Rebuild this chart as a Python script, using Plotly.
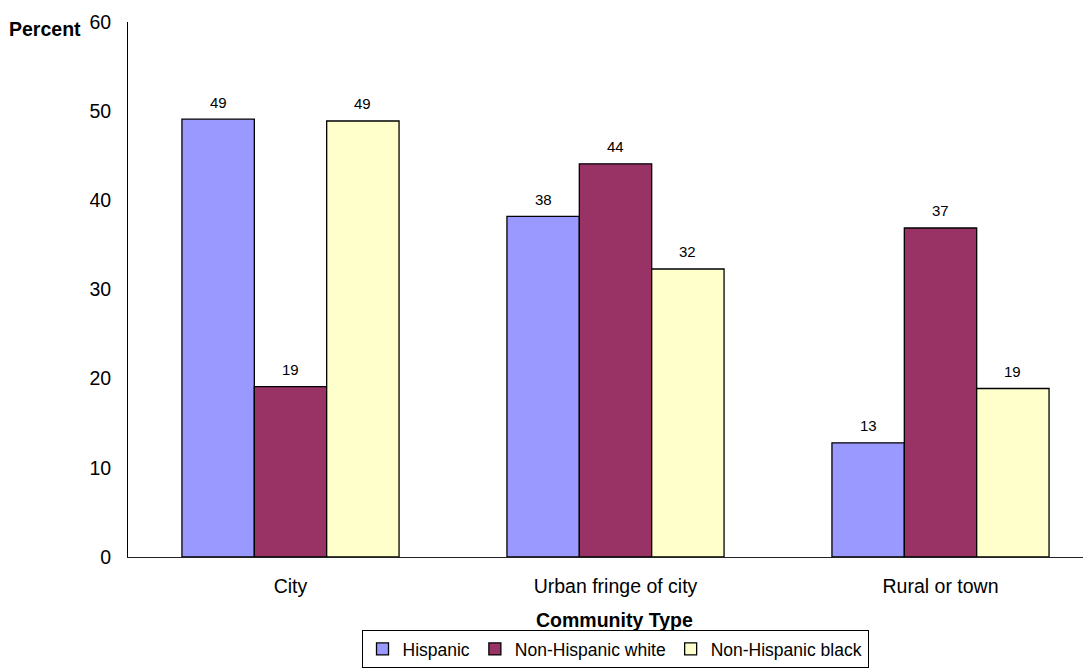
import plotly.graph_objects as go

categories = ["City", "Urban fringe of city", "Rural or town"]
series_names = ["Hispanic", "Non-Hispanic white", "Non-Hispanic black"]
hispanic = [49.1, 38.2, 12.8]
nh_white = [19.1, 44.1, 36.9]
nh_black = [48.9, 32.3, 18.9]
labels_hispanic = ["49", "38", "13"]
labels_white = ["19", "44", "37"]
labels_black = ["49", "32", "19"]
y_ticks = [0, 10, 20, 30, 40, 50, 60]

colors = ["#9999FF", "#993366", "#FFFFCC"]
FONT = "Liberation Sans, Arial, sans-serif"

# layout constants (page body has an 8px default margin; plot area runs past the right edge)
W, H = 1095, 661
ML, MR, MT, MB = 120, 0, 14, 112
BARGAP = 0.332
plot_w = W - ML - MR
bar_px = plot_w / len(categories) * (1 - BARGAP) / len(series_names)

fig = go.Figure()
annotations = []
all_vals = [hispanic, nh_white, nh_black]
all_labs = [labels_hispanic, labels_white, labels_black]
for i, (name, vals, labs, col) in enumerate(zip(series_names, all_vals, all_labs, colors)):
    fig.add_trace(go.Bar(
        name=name, x=categories, y=vals,
        marker=dict(color=col, line=dict(color="black", width=1.3)),
    ))
    for c, v, t in zip(categories, vals, labs):
        annotations.append(dict(
            text=t, x=c, y=v, xref="x", yref="y", showarrow=False,
            xanchor="center", yanchor="middle",
            xshift=(i - 1) * bar_px, yshift=17,
            font=dict(size=15, color="black"),
        ))

annotations += [
    dict(text="<b>Percent</b>", xref="paper", yref="paper", x=-0.0462, y=0.987,
         xanchor="right", yanchor="middle", showarrow=False, font=dict(size=19.5)),
    dict(text="<b>Community Type</b>", xref="paper", yref="paper", x=0.499, y=-0.1178,
         xanchor="center", yanchor="middle", showarrow=False, font=dict(size=19.5)),
]

fig.update_layout(
    width=W, height=H,
    margin=dict(l=ML, r=MR, t=MT, b=MB, pad=0),
    barmode="group", bargap=BARGAP, bargroupgap=0,
    plot_bgcolor="white", paper_bgcolor="white",
    font=dict(family=FONT, size=19.5, color="black"),
    showlegend=True,
    legend=dict(orientation="h", x=0.4995, xanchor="center", y=-0.2075, yanchor="bottom",
                bordercolor="black", borderwidth=1, font=dict(size=17.5),
                itemwidth=30, tracegroupgap=0, traceorder="normal"),
    xaxis=dict(showline=True, linecolor="#222222", linewidth=1, ticks="", showgrid=False,
               tickfont=dict(size=19.5), ticklabelstandoff=12),
    yaxis=dict(range=[0, 60], tickvals=y_ticks, showline=True, linecolor="black", linewidth=1,
               ticks="", showgrid=False, zeroline=False, tickfont=dict(size=19.5),
               ticklabelstandoff=12),
    annotations=annotations,
)

fig.write_html("out.html")
